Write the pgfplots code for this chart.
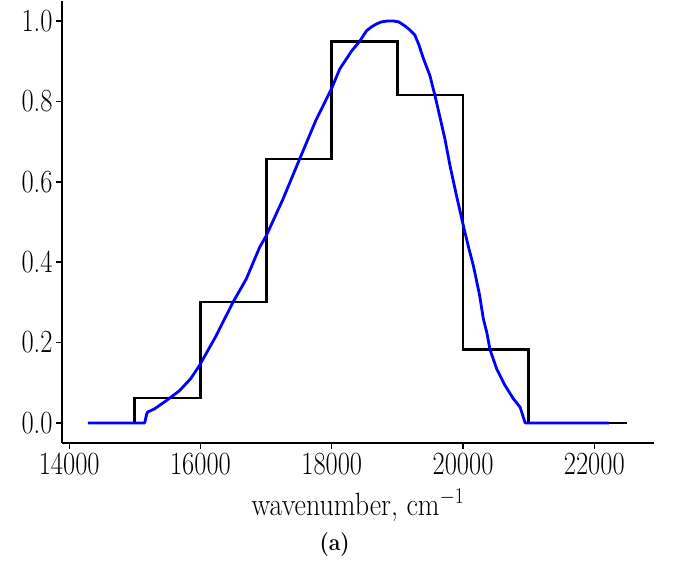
\RequirePackage{fix-cm}
\documentclass[border=0pt]{standalone}
\usepackage{fontspec}
\usepackage{pgfplots}
\pgfplotsset{compat=1.18}
\begin{document}
\begin{tikzpicture}
\begin{axis}[
 scale only axis, width=592pt, height=442pt,
 xmin=13890, xmax=22910, ymin=-0.05, ymax=1.05,
 axis x line*=bottom, axis y line*=left,
 axis line style={line width=1.4pt},
 tick align=outside, major tick length=6pt,
 tick style={line width=1.4pt, black},
 scaled x ticks=false,
 xtick={14000,16000,18000,20000,22000},
 xticklabels={14000,16000,18000,20000,22000},
 ytick={0,0.2,0.4,0.6,0.8,1.0},
 yticklabels={0.0,0.2,0.4,0.6,0.8,1.0},
 tick label style={font=\fontsize{26.5}{30}\selectfont, yscale=1.22},
]
\coordinate (SW) at (rel axis cs:0,0);
\coordinate (XL) at (rel axis cs:0.5,0);
\addplot[const plot, black, line width=2.8pt] coordinates {
(14286,0) (15000,0.062) (16000,0.301) (17000,0.657) (18000,0.950)
(19000,0.816) (20000,0.182) (21000,0) (22500,0)
};
\addplot[blue, line width=2.8pt, line join=round] coordinates {
(14286,0) (15150,0) (15180,0.022) (15195,0.027) (15300,0.035)
(15476,0.055) (15679,0.080) (15850,0.110) (15985,0.143) (16239,0.217)
(16494,0.300) (16697,0.358) (16901,0.437) (17003,0.466) (17257,0.557)
(17511,0.657) (17766,0.756) (17995,0.831) (18122,0.881) (18300,0.925)
(18427,0.950) (18530,0.976) (18610,0.986) (18683,0.993) (18760,0.998)
(18835,1.0) (18950,1.0) (19020,0.998) (19115,0.988) (19190,0.978)
(19267,0.965) (19330,0.940) (19394,0.908) (19496,0.864) (19573,0.814)
(19650,0.760) (19725,0.706) (19802,0.640) (19900,0.566) (20005,0.491)
(20080,0.440) (20158,0.391) (20250,0.320) (20310,0.259) (20361,0.226)
(20412,0.182) (20514,0.134) (20641,0.093) (20768,0.060) (20870,0.039)
(20947,0.0) (22222,0)
};
\end{axis}
\node[anchor=base, inner sep=0pt, font=\fontsize{28}{32}\selectfont, yscale=1.15] at ([yshift=-72.5pt]XL) {wavenumber, cm$^{-1}$};
\node[anchor=base, inner sep=0pt, font=\bfseries\fontsize{21.2}{25}\selectfont, yscale=1.12] at ([shift={(272.7pt,-107.7pt)}]SW) {(a)};
\pgfresetboundingbox
\path ([shift={(-62pt,-122pt)}]SW) rectangle ([shift={(611pt,443pt)}]SW);
\end{tikzpicture}
\end{document}
